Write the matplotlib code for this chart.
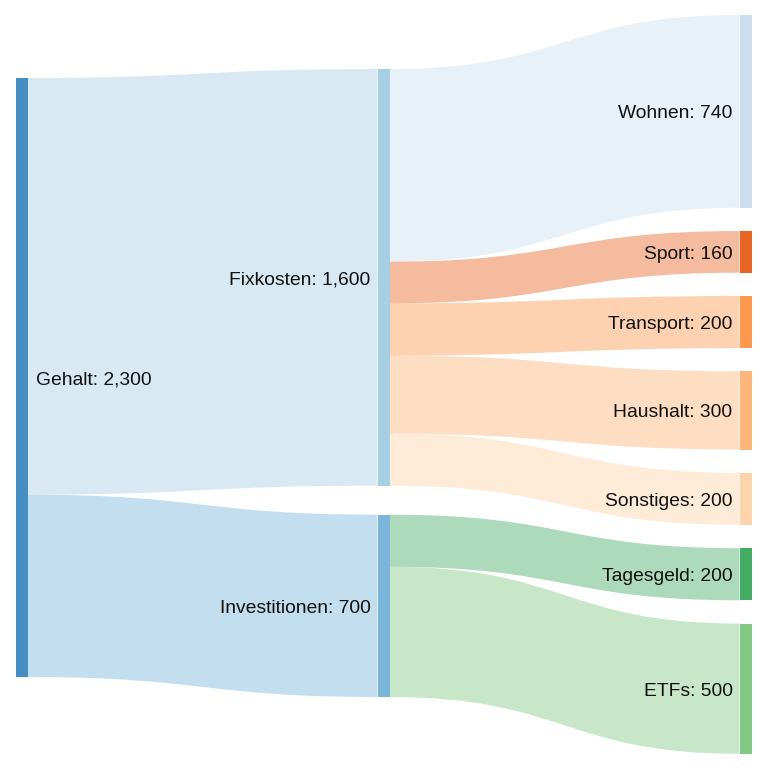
import matplotlib
matplotlib.use("Agg")
import matplotlib.pyplot as plt
from matplotlib.path import Path
from matplotlib.patches import PathPatch, Rectangle

# ---------------- data ----------------
node_names = ["Gehalt", "Fixkosten", "Investitionen", "Wohnen", "Sport",
              "Transport", "Haushalt", "Sonstiges", "Tagesgeld", "ETFs"]
node_colors = ["#3182bd", "#9ecae1", "#6baed6", "#c6dbef", "#e6550d",
               "#fd8d3c", "#fdae6b", "#fdd0a2", "#31a354", "#74c476"]
link_source = ["Gehalt", "Gehalt", "Fixkosten", "Fixkosten", "Fixkosten",
               "Fixkosten", "Fixkosten", "Investitionen", "Investitionen"]
link_target = ["Fixkosten", "Investitionen", "Wohnen", "Sport", "Transport",
               "Haushalt", "Sonstiges", "Tagesgeld", "ETFs"]
link_values = [1600, 700, 740, 160, 200, 300, 200, 200, 500]

# ---------------- layout constants ----------------
SCALE = 599.0 / 2300.0          # px per unit
NODE_W = 12.5
COL_X = [15.5, 377.5, 739.5]
COL_TOP = [78.0, 69.0, 15.0]
COL_GAP = [0.0, 29.0, 23.3]
NODE_ALPHA = 0.9
LINK_ALPHA = 0.4
FONT_SIZE = 13.9
TEXT_DY = 2.5

plt.rcParams['font.family'] = ['Liberation Sans', 'DejaVu Sans']

# node values
inflow = {n: 0 for n in node_names}
outflow = {n: 0 for n in node_names}
for s, t, v in zip(link_source, link_target, link_values):
    outflow[s] += v
    inflow[t] += v
node_val = {n: max(inflow[n], outflow[n]) for n in node_names}

# depth
depth = {n: 0 for n in node_names}
changed = True
while changed:
    changed = False
    for s, t in zip(link_source, link_target):
        if depth[t] < depth[s] + 1:
            depth[t] = depth[s] + 1
            changed = True

# positions
pos = {}
for c in range(3):
    y = COL_TOP[c]
    for n in node_names:
        if depth[n] == c:
            h = node_val[n] * SCALE
            pos[n] = (COL_X[c], y, h)
            y += h + COL_GAP[c]

fig = plt.figure(figsize=(7.68, 7.68), dpi=100)
ax = fig.add_axes([0, 0, 1, 1])
ax.set_xlim(0, 768)
ax.set_ylim(768, 0)
ax.axis("off")

color_of = dict(zip(node_names, node_colors))

# links
src_off = {n: 0.0 for n in node_names}
tgt_off = {n: 0.0 for n in node_names}
links = list(zip(link_source, link_target, link_values))
out_order = sorted(range(len(links)), key=lambda i: (node_names.index(links[i][0]), pos[links[i][1]][1]))
src_y = {}
for i in out_order:
    s, t, v = links[i]
    src_y[i] = pos[s][1] + src_off[s]
    src_off[s] += v * SCALE
in_order = sorted(range(len(links)), key=lambda i: (node_names.index(links[i][1]), pos[links[i][0]][1]))
tgt_y = {}
for i in in_order:
    s, t, v = links[i]
    tgt_y[i] = pos[t][1] + tgt_off[t]
    tgt_off[t] += v * SCALE

for i, (s, t, v) in enumerate(links):
    h = v * SCALE
    x0 = pos[s][0] + NODE_W
    x1 = pos[t][0]
    xm = (x0 + x1) / 2
    y0 = src_y[i]
    y1 = tgt_y[i]
    verts = [(x0, y0), (xm, y0), (xm, y1), (x1, y1),
             (x1, y1 + h), (xm, y1 + h), (xm, y0 + h), (x0, y0 + h), (x0, y0)]
    codes = [Path.MOVETO, Path.CURVE4, Path.CURVE4, Path.CURVE4,
             Path.LINETO, Path.CURVE4, Path.CURVE4, Path.CURVE4, Path.CLOSEPOLY]
    ax.add_patch(PathPatch(Path(verts, codes), facecolor=color_of[t],
                           edgecolor="none", alpha=LINK_ALPHA, zorder=1))

# nodes & labels
for n in node_names:
    x, y, h = pos[n]
    ax.add_patch(Rectangle((x, y), NODE_W, h, facecolor=color_of[n],
                           edgecolor="none", alpha=NODE_ALPHA, zorder=2))
    label = f"{n}: {node_val[n]:,}"
    if depth[n] == 0:
        ax.text(x + NODE_W + 8, y + h / 2 + TEXT_DY, label, ha="left", va="center",
                fontsize=FONT_SIZE, color="#111111", zorder=3)
    else:
        ax.text(x - 7, y + h / 2 + TEXT_DY, label, ha="right", va="center",
                fontsize=FONT_SIZE, color="#111111", zorder=3)

fig.savefig("out.png", dpi=100, facecolor="white")
